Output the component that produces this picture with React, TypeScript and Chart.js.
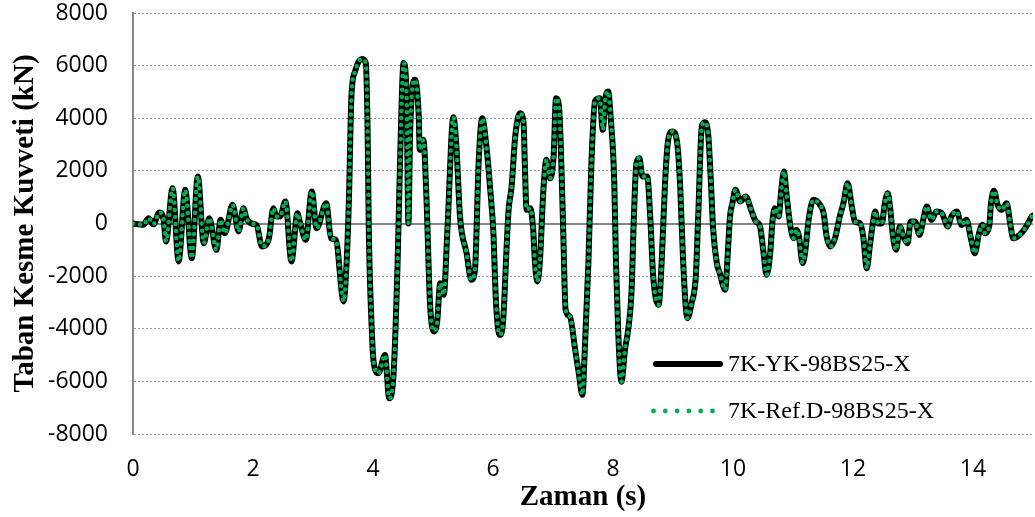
import React, { useEffect, useRef } from "react";
import { Chart, registerables } from "chart.js";

Chart.register(...registerables);

// Time (s)
const timeS = [
  0.0, 0.17, 0.26, 0.34, 0.44, 0.51, 0.55, 0.66, 0.76, 0.87, 0.98, 1.08, 1.18, 1.27, 1.39, 1.46, 1.53, 1.66, 1.76, 1.84,
  1.89, 1.98, 2.06, 2.15, 2.26, 2.34, 2.39, 2.45, 2.54, 2.64, 2.74, 2.78, 2.88, 2.98, 3.06, 3.22, 3.3, 3.38, 3.51, 3.56,
  3.6, 3.64, 3.7, 3.81, 3.88, 3.91, 3.93, 3.98, 4.01, 4.09, 4.2, 4.27, 4.34, 4.41, 4.45, 4.51, 4.56, 4.59, 4.62, 4.7,
  4.76, 4.78, 4.84, 4.89, 4.95, 5.02, 5.07, 5.12, 5.18, 5.24, 5.34, 5.39, 5.45, 5.56, 5.64, 5.7, 5.76, 5.82, 5.89, 5.95,
  6.01, 6.04, 6.08, 6.12, 6.17, 6.23, 6.26, 6.31, 6.37, 6.45, 6.51, 6.53, 6.56, 6.62, 6.67, 6.7, 6.74, 6.78, 6.84, 6.89,
  6.95, 7.01, 7.05, 7.1, 7.13, 7.17, 7.21, 7.28, 7.37, 7.43, 7.49, 7.53, 7.59, 7.64, 7.7, 7.78, 7.83, 7.87, 7.92, 7.96,
  8.02, 8.05, 8.09, 8.14, 8.2, 8.26, 8.31, 8.35, 8.39, 8.44, 8.49, 8.57, 8.62, 8.67, 8.76, 8.81, 8.87, 8.92, 8.99, 9.07,
  9.12, 9.17, 9.24, 9.31, 9.38, 9.42, 9.48, 9.53, 9.59, 9.63, 9.67, 9.73, 9.78, 9.87, 9.91, 9.95, 9.99, 10.04, 10.12, 10.21,
  10.31, 10.38, 10.45, 10.51, 10.56, 10.62, 10.66, 10.7, 10.76, 10.81, 10.85, 10.89, 10.95, 11.01, 11.06, 11.1, 11.16, 11.2, 11.26, 11.34,
  11.45, 11.51, 11.56, 11.62, 11.7, 11.78, 11.84, 11.91, 11.98, 12.03, 12.12, 12.17, 12.23, 12.28, 12.33, 12.37, 12.42, 12.48, 12.53, 12.58,
  12.62, 12.66, 12.72, 12.78, 12.85, 12.91, 12.96, 13.03, 13.11, 13.17, 13.23, 13.31, 13.39, 13.48, 13.58, 13.64, 13.73, 13.81, 13.89, 13.97,
  14.03, 14.1, 14.16, 14.2, 14.27, 14.3, 14.35, 14.41, 14.48, 14.56, 14.62, 14.67, 14.78, 14.89, 14.98, 15.0,
];

// Base shear (kN) – 7K-YK-98BS25-X
const shearYK = [
  0, -50, 200, -30, 420, 140, -680, 1340, -1440, 1280, -1320, 1790, -750, 200, -1000, 140, -370, 710, -300, 580,
  200, 0, -60, -870, -620, 580, 270, 270, 840, -1440, 390, 70, -620, 1220, -180, 770, -560, -620, -2960, -1500,
  1030, 4830, 5780, 6250, 6100, 3560, -240, -4040, -5250, -5690, -5000, -6640, -5820, -1500, 2290, 6100, 4830, 0, 3560, 5460,
  4190, 2800, 3180, 1030, -3030, -4100, -3720, -2270, -2710, -240, 4040, 2930, 270, -1130, -2140, -1760, 2290, 4000, 2930, 1400,
  -500, -2520, -3910, -4230, -3660, -750, 520, 1400, 3300, 4190, 3810, 2290, 520, 580, -240, -1500, -2200, -1500, 1280, 2420,
  1720, 2550, 4760, 4450, 2930, -240, -3280, -3530, -4800, -5690, -6510, -4800, -1500, 2290, 4650, 4760, 3560, 4700, 5020, 4070,
  1660, -1500, -4300, -6010, -4800, -3910, -2520, 390, 2290, 2480, 1790, 1790, 270, -2010, -3090, -1500, 1660, 3180, 3500, 3050,
  1400, -1500, -3600, -3030, -2010, 270, 3690, 3850, 3300, 1660, -240, -1500, -1890, -2520, -1250, 270, 770, 1280, 840, 1030,
  460, 80, -110, -1130, -1950, -1130, 140, 580, 270, 1400, 1980, 1150, 0, -560, -240, -490, -1500, -1130, 140, 900,
  710, 390, -490, -870, -560, 270, 770, 1530, 650, 80, 0, -490, -1700, -870, 0, 460, 0, 0, 770, 1150,
  580, -370, -1000, -110, -560, -750, 80, 80, -430, 140, 650, 140, 460, 390, -110, 270, 460, -50, 140, -620,
  -1130, -370, -50, -370, -110, 770, 1240, 710, 520, 770, 0, -560, -430, -110, 270, 300,
];

// Base shear (kN) – 7K-Ref.D-98BS25-X
const shearRefD = [
  0, -50, 200, -30, 420, 140, -680, 1340, -1440, 1280, -1320, 1790, -750, 200, -1000, 140, -370, 710, -300, 580,
  200, 0, -60, -870, -620, 580, 270, 270, 840, -1440, 390, 70, -620, 1220, -180, 770, -560, -620, -2960, -1500,
  1030, 4830, 5780, 6250, 6100, 3560, -240, -4040, -5250, -5690, -5000, -6640, -5820, -1500, 2290, 6100, 4830, 0, 3560, 5460,
  4190, 2800, 3180, 1030, -3030, -4100, -3720, -2270, -2710, -240, 4040, 2930, 270, -1130, -2140, -1760, 2290, 4000, 2930, 1400,
  -500, -2520, -3910, -4230, -3660, -750, 520, 1400, 3300, 4190, 3810, 2290, 520, 580, -240, -1500, -2200, -1500, 1280, 2420,
  1720, 2550, 4760, 4450, 2930, -240, -3280, -3530, -4800, -5690, -6510, -4800, -1500, 2290, 4650, 4760, 3560, 4700, 5020, 4070,
  1660, -1500, -4300, -6010, -4800, -3910, -2520, 390, 2290, 2480, 1790, 1790, 270, -2010, -3090, -1500, 1660, 3180, 3500, 3050,
  1400, -1500, -3600, -3030, -2010, 270, 3690, 3850, 3300, 1660, -240, -1500, -1890, -2520, -1250, 270, 770, 1280, 840, 1030,
  460, 80, -110, -1130, -1950, -1130, 140, 580, 270, 1400, 1980, 1150, 0, -560, -240, -490, -1500, -1130, 140, 900,
  710, 390, -490, -870, -560, 270, 770, 1530, 650, 80, 0, -490, -1700, -870, 0, 460, 0, 0, 770, 1150,
  580, -370, -1000, -110, -560, -750, 80, 80, -430, 140, 650, 140, 460, 390, -110, 270, 460, -50, 140, -620,
  -1130, -370, -50, -370, -110, 770, 1240, 710, 520, 770, 0, -560, -430, -110, 270, 300,
];

const xTickValues = [0, 2, 4, 6, 8, 10, 12, 14];
const yTickValues = [-8000, -6000, -4000, -2000, 0, 2000, 4000, 6000, 8000];
const seriesNames = ["7K-YK-98BS25-X", "7K-Ref.D-98BS25-X"];
const xTitle = "Zaman (s)";
const yTitle = "Taban Kesme Kuvveti (kN)";

const BLACK = "#000000";
const GREEN = "#00B050";
const SERIF = "'Liberation Serif', 'Times New Roman', serif";
const SANS = "'Open Sans', 'Liberation Sans', sans-serif";

export default function App() {
  const canvasRef = useRef<HTMLCanvasElement | null>(null);

  useEffect(() => {
    const canvas = canvasRef.current;
    if (!canvas) return;

    const zeroLine = {
      id: "zeroLine",
      beforeDatasetsDraw(chart: any) {
        const { ctx, chartArea, scales } = chart;
        const y = Math.round(scales.y.getPixelForValue(0));
        ctx.save();
        ctx.strokeStyle = "#868686";
        ctx.lineWidth = 2;
        ctx.beginPath();
        ctx.moveTo(chartArea.left, y);
        ctx.lineTo(chartArea.right, y);
        ctx.stroke();
        ctx.restore();
      },
    };

    const inlineLegend = {
      id: "inlineLegend",
      afterDatasetsDraw(chart: any) {
        const ctx = chart.ctx;
        ctx.save();
        ctx.strokeStyle = BLACK;
        ctx.lineWidth = 6;
        ctx.lineCap = "round";
        ctx.beginPath();
        ctx.moveTo(656, 364);
        ctx.lineTo(720, 364);
        ctx.stroke();
        ctx.fillStyle = GREEN;
        for (let i = 0; i < 6; i++) {
          ctx.beginPath();
          ctx.arc(653.5 + i * 11.8, 411, 2.4, 0, Math.PI * 2);
          ctx.fill();
        }
        ctx.fillStyle = "#000";
        ctx.font = `24px ${SERIF}`;
        ctx.textBaseline = "alphabetic";
        ctx.textAlign = "left";
        ctx.fillText(seriesNames[0], 728, 371);
        ctx.fillText(seriesNames[1], 728, 418);
        ctx.restore();
      },
    };

    const chart = new Chart(canvas, {
      type: "line",
      data: {
        datasets: [
          {
            label: seriesNames[0],
            data: timeS.map((t, i) => ({ x: t, y: shearYK[i] })),
            borderColor: BLACK,
            borderWidth: 6,
            borderJoinStyle: "round",
            borderCapStyle: "round",
            pointRadius: 0,
            cubicInterpolationMode: "monotone",
            order: 1,
          },
          {
            label: seriesNames[1],
            data: timeS.map((t, i) => ({ x: t, y: shearRefD[i] })),
            borderColor: GREEN,
            borderWidth: 4.5,
            borderDash: [0, 7],
            borderCapStyle: "round",
            borderJoinStyle: "round",
            pointRadius: 0,
            cubicInterpolationMode: "monotone",
            order: 0,
          },
        ],
      },
      options: {
        responsive: false,
        animation: false,
        devicePixelRatio: 1,
        layout: { padding: { top: 13, right: 2, bottom: 0, left: 0 } },
        plugins: {
          legend: { display: false },
          tooltip: { enabled: false },
        },
        scales: {
          x: {
            type: "linear",
            min: 0,
            max: 15,
            afterBuildTicks: (s: any) => {
              s.ticks = xTickValues.map((v) => ({ value: v }));
            },
            afterFit: (s: any) => {
              s.height = 83;
              s.paddingLeft = 0;
              s.paddingRight = 0;
            },
            grid: { display: false, drawTicks: false },
            border: { display: false },
            ticks: {
              padding: 22,
              color: "#000",
              font: { family: SANS, size: 23 },
              maxRotation: 0,
              autoSkip: false,
            },
            title: {
              display: true,
              text: xTitle,
              color: "#000",
              font: { family: SERIF, size: 29, weight: "bold" },
              padding: { top: 0, bottom: 2 },
            },
          },
          y: {
            type: "linear",
            min: -8000,
            max: 8000,
            afterBuildTicks: (s: any) => {
              s.ticks = yTickValues.map((v) => ({ value: v }));
            },
            afterFit: (s: any) => {
              s.width = 133;
              s.paddingTop = 0;
              s.paddingBottom = 0;
            },
            grid: { color: "#9a9a9a", lineWidth: 1, drawTicks: false },
            border: { display: true, color: "#868686", width: 2, dash: [2, 2] },
            ticks: {
              padding: 25,
              color: "#000",
              font: { family: SANS, size: 23 },
              autoSkip: false,
              callback: (v: any) => String(v),
            },
            title: {
              display: true,
              text: yTitle,
              color: "#000",
              font: { family: SERIF, size: 29, weight: "bold" },
              padding: { top: 8, bottom: 0 },
            },
          },
        },
      },
      plugins: [zeroLine, inlineLegend],
    } as any);

    return () => chart.destroy();
  }, []);

  return (
    <div style={{ position: "fixed", left: 0, top: 0, width: 1035, height: 517, background: "#fff" }}>
      <canvas ref={canvasRef} width={1035} height={517} style={{ display: "block" }} />
    </div>
  );
}
